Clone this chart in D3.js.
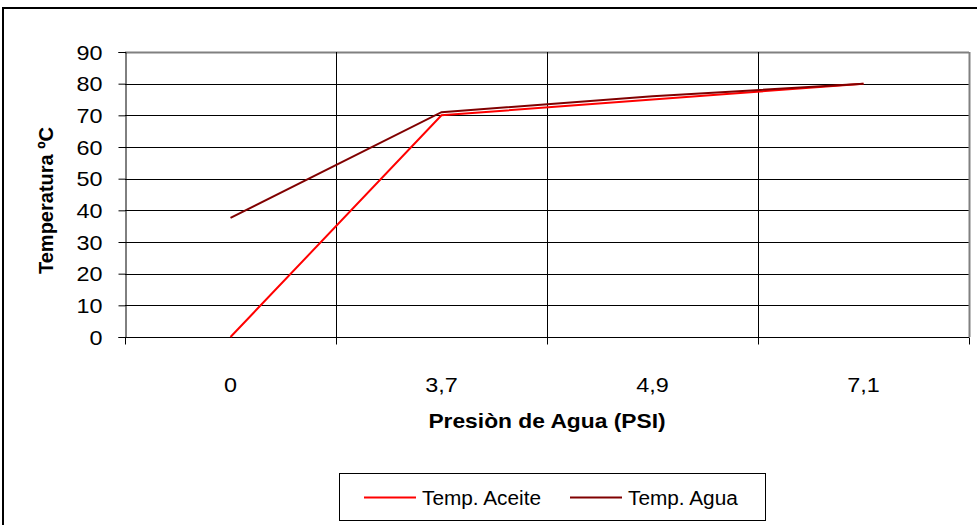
<!DOCTYPE html>
<html>
<head>
<meta charset="utf-8">
<script src="https://cdn.jsdelivr.net/npm/d3@7"></script>
<style>
  html, body { margin: 0; padding: 0; background: #fff; }
  svg { display: block; font-family: "Liberation Sans", Arial, sans-serif; }
</style>
</head>
<body>
<svg id="chart" width="977" height="525"></svg>
<script>
// Water pressure categories (PSI) and measured temperatures (ºC)
const categories = ["0", "3,7", "4,9", "7,1"];
const aceite = [0, 70, 75, 80];
const agua = [37.6, 71, 76, 80];
const yTicks = [0, 10, 20, 30, 40, 50, 60, 70, 80, 90];

const seriesList = [
  { name: "Temp. Aceite", values: aceite, color: "#ff0000" },
  { name: "Temp. Agua", values: agua, color: "#800000" }
];

const svg = d3.select("#chart");
const W = 977, H = 525;
const plot = { left: 125, right: 969, top: 52, bottom: 337 };
const FONT = "Liberation Sans, Arial, sans-serif";
const STRETCH = 1.17; // slightly wide lettering for numbers and axis title

// chart-area frame
svg.append("rect")
  .attr("x", 3).attr("y", 8)
  .attr("width", W + 10).attr("height", H + 10)
  .attr("fill", "#fff").attr("stroke", "#000").attr("stroke-width", 2);

const x = d3.scaleBand().domain(categories).range([plot.left, plot.right]).padding(0);
const y = d3.scaleLinear().domain([0, 90]).range([plot.bottom, plot.top]);

// horizontal gridlines
svg.append("g")
  .selectAll("line")
  .data(yTicks.filter(t => t > 0))
  .join("line")
  .attr("x1", plot.left).attr("x2", plot.right)
  .attr("y1", d => Math.round(y(d)) + 0.5).attr("y2", d => Math.round(y(d)) + 0.5)
  .attr("stroke", d => d === 90 ? "#808080" : "#000")
  .attr("stroke-width", d => d === 90 ? 2 : 1);

// vertical gridlines at category boundaries
const bounds = categories.slice(1).map(c => x(c)).concat([plot.right]);
svg.append("g")
  .selectAll("line")
  .data(bounds)
  .join("line")
  .attr("x1", d => Math.round(d) + 0.5).attr("x2", d => Math.round(d) + 0.5)
  .attr("y1", plot.top).attr("y2", plot.bottom)
  .attr("stroke", (d, i) => i === bounds.length - 1 ? "#808080" : "#000")
  .attr("stroke-width", (d, i) => i === bounds.length - 1 ? 2 : 1);

// y axis
const yAxis = svg.append("g")
  .attr("transform", `translate(${plot.left + 0.5},0)`)
  .call(d3.axisLeft(y).tickValues(yTicks).tickSize(7).tickPadding(16).tickFormat(d3.format("d")));
yAxis.attr("font-size", null).attr("font-family", null);
yAxis.select(".domain").attr("stroke", "#000");
yAxis.selectAll(".tick line").attr("stroke", "#000");
yAxis.selectAll("text")
  .attr("x", 0)
  .attr("transform", `translate(-23,0) scale(${STRETCH},1)`)
  .style("font-size", "20px").style("font-family", FONT).attr("fill", "#000")
  .attr("dy", "0.35em");

// x axis: ticks at band edges, labels centred in bands
const xg = svg.append("g").attr("transform", `translate(0,${plot.bottom + 0.5})`);
xg.append("line")
  .attr("x1", plot.left).attr("x2", plot.right)
  .attr("y1", 0).attr("y2", 0)
  .attr("stroke", "#000").attr("stroke-width", 1);
xg.selectAll("line.tk")
  .data([plot.left].concat(bounds))
  .join("line").attr("class", "tk")
  .attr("x1", d => Math.round(d) + 0.5).attr("x2", d => Math.round(d) + 0.5)
  .attr("y1", 0).attr("y2", 7)
  .attr("stroke", "#000");
xg.selectAll("text")
  .data(categories)
  .join("text")
  .attr("transform", d => `translate(${x(d) + x.bandwidth() / 2},54) scale(${STRETCH},1)`)
  .attr("text-anchor", "middle")
  .style("font-size", "20px")
  .text(d => d);

// axis titles
svg.append("text")
  .attr("transform", `translate(${(plot.left + plot.right) / 2},428) scale(1.14,1)`)
  .attr("text-anchor", "middle")
  .style("font-size", "20px").attr("font-weight", "bold")
  .text("Presiòn de Agua (PSI)");

svg.append("text")
  .attr("transform", `translate(53,${(plot.top + plot.bottom) / 2 + 6}) rotate(-90)`)
  .attr("text-anchor", "middle")
  .style("font-size", "20px").attr("font-weight", "bold")
  .text("Temperatura ºC");

// series lines
const line = d3.line()
  .x((d, i) => x(categories[i]) + x.bandwidth() / 2)
  .y(d => y(d));

svg.append("g")
  .selectAll("path")
  .data(seriesList)
  .join("path")
  .attr("d", s => line(s.values))
  .attr("fill", "none")
  .attr("stroke", s => s.color)
  .attr("stroke-width", 2);

// legend
const legend = svg.append("g");
legend.append("rect")
  .attr("x", 339.5).attr("y", 473.5)
  .attr("width", 426).attr("height", 47)
  .attr("fill", "#fff").attr("stroke", "#000");

const legendItems = [
  { s: seriesList[0], lx: 364 },
  { s: seriesList[1], lx: 570 }
];
legendItems.forEach(it => {
  legend.append("line")
    .attr("x1", it.lx).attr("x2", it.lx + 52)
    .attr("y1", 497.5).attr("y2", 497.5)
    .attr("stroke", it.s.color).attr("stroke-width", 2);
  legend.append("text")
    .attr("transform", `translate(${it.lx + 58},505) scale(1.04,1)`)
    .style("font-size", "20px")
    .text(it.s.name);
});
</script>
</body>
</html>
